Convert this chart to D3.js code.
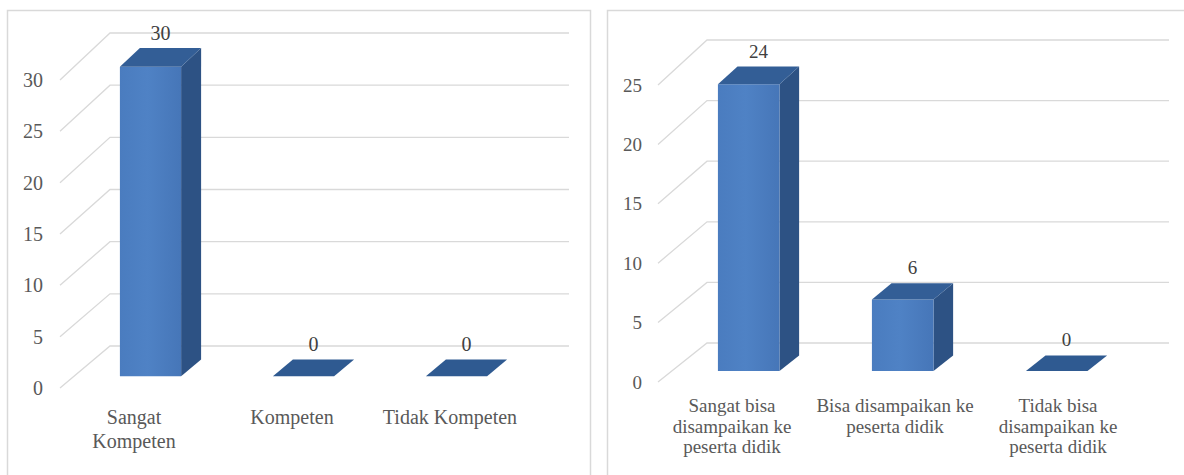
<!DOCTYPE html>
<html>
<head>
<meta charset="utf-8">
<script src="https://cdn.jsdelivr.net/npm/d3@7"></script>
<style>
  html, body { margin: 0; padding: 0; background: #ffffff; }
  svg { display: block; }
  text { font-family: "Liberation Serif", "DejaVu Serif", serif; }
</style>
</head>
<body>
<svg id="chart" width="1184" height="475"></svg>
<script>
// Competence of participants
const leftCategories = ["Sangat\nKompeten", "Kompeten", "Tidak Kompeten"];
const leftValues = [30, 0, 0];
const leftTicks = [0, 5, 10, 15, 20, 25, 30];

// Whether the material can be passed on to students
const rightCategories = [
  "Sangat bisa\ndisampaikan ke\npeserta didik",
  "Bisa disampaikan ke\npeserta didik",
  "Tidak bisa\ndisampaikan ke\npeserta didik"
];
const rightValues = [24, 6, 0];
const rightTicks = [0, 5, 10, 15, 20, 25];

const svg = d3.select("#chart");

const defs = svg.append("defs");
const grad = defs.append("linearGradient").attr("id", "frontFace")
  .attr("x1", "0%").attr("x2", "100%").attr("y1", "0%").attr("y2", "0%");
grad.append("stop").attr("offset", "0%").attr("stop-color", "#4a7cbf");
grad.append("stop").attr("offset", "45%").attr("stop-color", "#4f82c5");
grad.append("stop").attr("offset", "100%").attr("stop-color", "#4676b8");

function drawChart(cfg, categories, values, ticks) {
  const g = svg.append("g");

  // panel frame
  g.append("rect")
    .attr("x", cfg.panel.x + 0.5).attr("y", cfg.panel.y + 0.5)
    .attr("width", cfg.panel.w).attr("height", cfg.panel.h)
    .attr("fill", "#ffffff").attr("stroke", "#d9d9d9").attr("stroke-width", 1.5);

  const maxTick = d3.max(ticks);
  const yFront = d3.scaleLinear().domain([0, maxTick]).range(cfg.yFront);
  const yBack = d3.scaleLinear().domain([0, maxTick]).range(cfg.yBack);
  const x = d3.scaleBand().domain(categories).range(cfg.xRange).padding(0);
  const xLabel = d3.scaleBand().domain(categories).range(cfg.labelRange).padding(0);
  const dx = cfg.depthX;

  // project a point (x on front plane, value, depth 0..1) to the screen
  const P = (px, v, z) => [px + z * dx, yFront(v) + z * (yBack(v) - yFront(v))];
  const line = d3.line();

  // gridlines: diagonal on the side wall, horizontal on the back wall
  const [xa, xb] = cfg.xRange;
  g.append("g").selectAll("path").data(ticks).join("path")
    .attr("d", t => line([[xa, yFront(t)], [xa + dx, yBack(t)], [xb + dx, yBack(t)]]))
    .attr("fill", "none").attr("stroke", "#d9d9d9").attr("stroke-width", 1.3);

  // tick labels
  g.append("g").selectAll("text").data(ticks).join("text")
    .attr("x", cfg.tickX).attr("y", t => yFront(t))
    .attr("dy", "0.35em").attr("text-anchor", "end")
    .attr("font-size", cfg.tickSize).attr("fill", "#595959")
    .text(t => t);

  // 3D columns
  const z0 = 0.28, z1 = 0.68;
  const bars = g.append("g").selectAll("g").data(categories.map((c, i) => ({ c, v: values[i] })))
    .join("g");

  bars.each(function (d) {
    const sel = d3.select(this);
    const cx = x(d.c) + x.bandwidth() / 2;
    const w = x.bandwidth() * 0.4;
    const l = cx - w / 2, r = cx + w / 2;
    if (d.v > 0) {
      sel.append("path")
        .attr("d", line([P(r, 0, z0), P(r, 0, z1), P(r, d.v, z1), P(r, d.v, z0)]) + "Z")
        .attr("fill", "#2d5284");
      sel.append("path")
        .attr("d", line([P(l, 0, z0), P(r, 0, z0), P(r, d.v, z0), P(l, d.v, z0)]) + "Z")
        .attr("fill", "url(#frontFace)");
    }
    sel.append("path")
      .attr("d", line([P(l, d.v, z0), P(r, d.v, z0), P(r, d.v, z1), P(l, d.v, z1)]) + "Z")
      .attr("fill", d.v > 0 ? "#335e96" : "#2f5a91");

    // value label above the column
    const [lx, ly] = P(cx, d.v, 0.48);
    sel.append("text")
      .attr("x", lx).attr("y", ly - 24).attr("dy", "0.35em")
      .attr("text-anchor", "middle")
      .attr("font-size", cfg.valueSize).attr("fill", "#404040")
      .text(d.v);
  });

  // category labels (multi-line)
  const labels = g.append("g").selectAll("text").data(categories).join("text")
    .attr("text-anchor", "middle")
    .attr("font-size", cfg.labelSize).attr("fill", "#595959");
  labels.each(function (c) {
    const t = d3.select(this);
    c.split("\n").forEach((s, i) => {
      t.append("tspan")
        .attr("x", xLabel(c) + xLabel.bandwidth() / 2)
        .attr("y", cfg.labelBaseline + i * cfg.lineHeight)
        .text(s);
    });
  });
}

drawChart({
  panel: { x: 7, y: 10, w: 583, h: 480 },
  xRange: [60, 519],
  labelRange: [55, 529],
  depthX: 50,
  yFront: [388, 80],
  yBack: [346, 33],
  tickX: 43,
  tickSize: 20,
  valueSize: 20,
  labelSize: 20,
  labelBaseline: 424,
  lineHeight: 24
}, leftCategories, leftValues, leftTicks);

drawChart({
  panel: { x: 607, y: 10, w: 600, h: 480 },
  xRange: [658, 1120],
  labelRange: [650.5, 1139.5],
  depthX: 49,
  yFront: [382, 85],
  yBack: [343, 40],
  tickX: 642,
  tickSize: 19,
  valueSize: 19,
  labelSize: 19,
  labelBaseline: 412,
  lineHeight: 20.5
}, rightCategories, rightValues, rightTicks);
</script>
</body>
</html>
